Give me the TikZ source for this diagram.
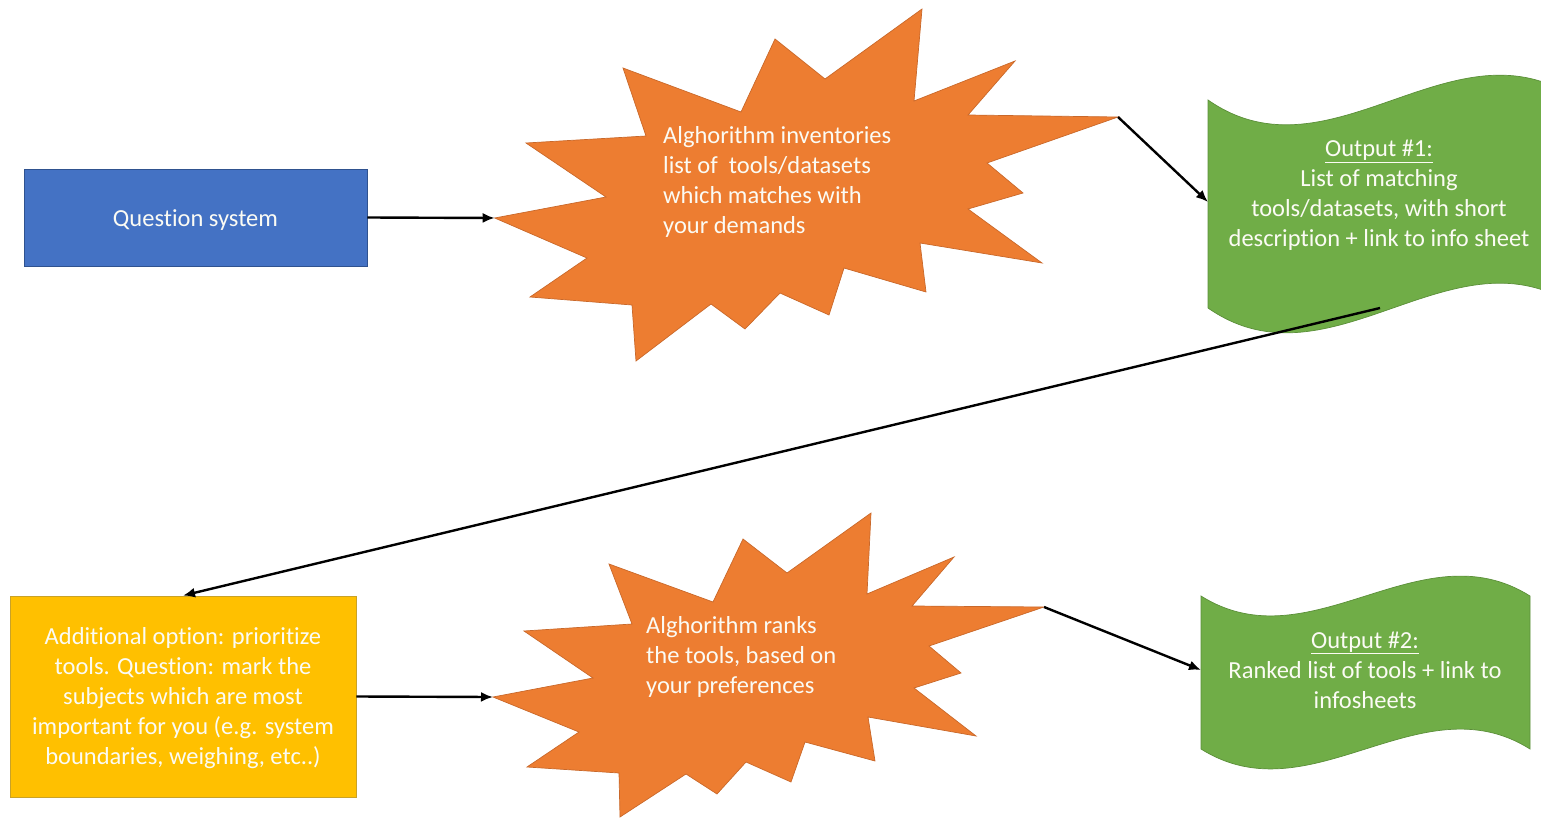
\documentclass[tikz,border=0pt]{standalone}
\usepackage{fontspec}
\setmainfont{Carlito}[Ligatures={NoCommon}]
\usetikzlibrary{arrows.meta}
\definecolor{cblue}{HTML}{4472C4}
\definecolor{cblueb}{HTML}{2F528F}
\definecolor{corange}{HTML}{ED7D31}
\definecolor{coranb}{HTML}{C9682A}
\definecolor{cgreen}{HTML}{70AD47}
\definecolor{cgreenb}{HTML}{5B8F39}
\definecolor{cyellow}{HTML}{FFC000}
\definecolor{cyellowb}{HTML}{C9A227}
\definecolor{ctext}{HTML}{FBFBF4}
\tikzset{
  txt/.style={text=ctext, font=\fontsize{24.5pt}{30pt}\selectfont, inner sep=0pt},
  qsbox/.style={draw=cblueb, fill=cblue, line width=0.9pt, txt, minimum width=343pt, minimum height=97pt},
  addbox/.style={draw=cyellowb, fill=cyellow, line width=0.9pt, txt, minimum width=346pt, minimum height=201pt, align=center},
  burst/.style={fill=corange, draw=coranb, line width=0.7pt, line join=miter},
  wave/.style={fill=cgreen, draw=cgreenb, line width=0.7pt},
  arr/.style={-{Latex[length=12pt,width=10pt]}, line width=2.4pt, black},
}
\begin{document}
\begin{tikzpicture}[x=1pt,y=-1pt]
\useasboundingbox (0,0) rectangle (1541,818);
% Question system
\node[qsbox] (qs) at (195.5,217.5) {\raisebox{-3pt}[\height][\depth]{Question system}};
% Burst 1
\filldraw[burst] (494.7,218) -- (606,197) -- (526,143) -- (646,136) -- (623,68) -- (741,112) -- (775,39) -- (825,79) -- (922,9) -- (914,101) -- (1015,61) -- (968,115) -- (1118,117) -- (987,163) -- (1023,193) -- (968,209) -- (1042,263) -- (920,243) -- (926,292) -- (844,268) -- (829,315) -- (780,293) -- (745,329) -- (711,304) -- (636,361) -- (632,305) -- (530,297) -- (587,258) -- cycle;
\coordinate (b1w) at (494.7,218);
\coordinate (b1e) at (1118,117);
\node[txt, anchor=west, align=left] (b1t) at (663,182) {Alghorithm inventories\\list of \ tools/datasets\\which matches with\\your demands};
% Output 1 wave
\filldraw[wave] (1208,100) .. controls (1331.3,186) and (1454.7,14) .. (1578,100) -- (1578,308) .. controls (1454.7,222) and (1331.3,394) .. (1208,308) -- cycle;
\coordinate (o1w) at (1208,202);
\coordinate (o1b) at (1380,308);
\node[txt, align=center] (o1t) at (1379,195.5) {\underline{Output \#1:}\\List of matching\\tools/datasets, with short\\description + link to info sheet};
% Additional option
\node[addbox] (add) at (183,696.5) {\raisebox{-2pt}[\height][\depth]{\begin{tabular}{@{}c@{}}Additional option: prioritize\\tools. Question: mark the\\subjects which are most\\important for you (e.g. system\\boundaries, weighing, etc..)\end{tabular}}};
% Burst 2
\filldraw[burst] (493,697) -- (593,678) -- (524,631) -- (632,624) -- (609,564) -- (713,602) -- (743,539) -- (787,573) -- (871,513) -- (867,594) -- (954,557) -- (912,606) -- (1044,607) -- (929,646) -- (961,673) -- (914,688) -- (976,736) -- (868,717) -- (875,761) -- (805,742) -- (791,782) -- (746,762) -- (717,794) -- (686,774) -- (620,817) -- (619,773) -- (527,767) -- (579,732) -- cycle;
\coordinate (b2w) at (493,697);
\coordinate (b2e) at (1044,607);
\node[txt, anchor=west, align=left] (b2t) at (646,657) {Alghorithm ranks\\the tools, based on\\your preferences};
% Output 2 wave
\filldraw[wave] (1201,596) .. controls (1310.7,665) and (1420.3,527) .. (1530,596) -- (1530,749) .. controls (1420.3,680) and (1310.7,818) .. (1201,749) -- cycle;
\coordinate (o2w) at (1201,670);
\node[txt, align=center] (o2t) at (1365,670) {\underline{Output \#2:}\\Ranked list of tools + link to\\infosheets};
% Connectors
\draw[arr] (qs.east) -- (b1w);
\draw[arr] (b1e) -- (o1w);
\draw[arr] (o1b) -- (add.north);
\draw[arr] (add.east) -- (b2w);
\draw[arr] (b2e) -- (o2w);
\end{tikzpicture}
\end{document}
